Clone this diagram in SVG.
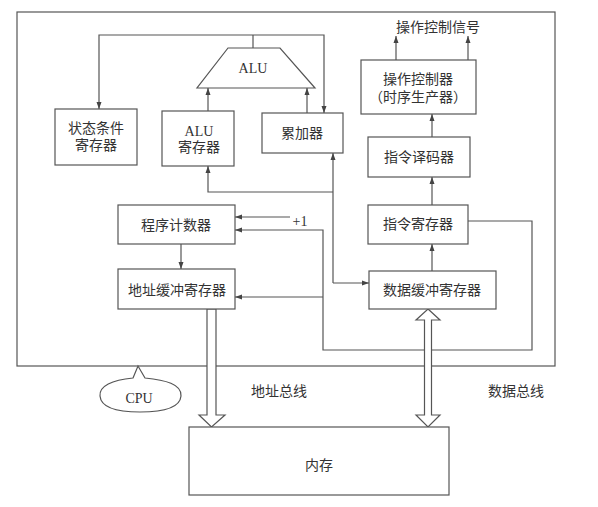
<svg xmlns="http://www.w3.org/2000/svg" width="598" height="507" viewBox="0 0 598 507">
<style>
.box{fill:#fff;stroke:#555;stroke-width:1.2}
.ln{fill:none;stroke:#555;stroke-width:1.2}
.bus{fill:#fff;stroke:#555;stroke-width:1.2;stroke-linejoin:miter}
text{font-family:"Liberation Serif","Noto Sans CJK SC",serif;font-size:14px;fill:#333;text-anchor:middle}
.lat{font-size:14px}
</style>
<defs>
<marker id="ah" markerUnits="userSpaceOnUse" markerWidth="8" markerHeight="6" refX="7" refY="3" orient="auto">
<path d="M0,0.5 L7,3 L0,5.5 z" fill="#444"/>
</marker>
</defs>
<rect width="598" height="507" fill="#fff"/>
<g id="cpu-frame"><rect x="17" y="12" width="538" height="354" class="box" fill="none"/></g>

<g id="connectors">
<path class="ln" d="M253,48 V35"/>
<path class="ln" d="M253,35 H99 V109" marker-end="url(#ah)"/>
<path class="ln" d="M253,35 H324 V113" marker-end="url(#ah)"/>
<path class="ln" d="M208,111 V88" marker-end="url(#ah)"/>
<path class="ln" d="M307,113 V88" marker-end="url(#ah)"/>
<path class="ln" d="M333,192 H208 V166" marker-end="url(#ah)"/>
<path class="ln" d="M333,283 V153" marker-end="url(#ah)"/>
<path class="ln" d="M333,283 H369" marker-end="url(#ah)"/>
<path class="ln" d="M290,217 H235" marker-end="url(#ah)"/>
<path class="ln" d="M468,221 H532 V350 H323 V230 H235" marker-end="url(#ah)"/>
<path class="ln" d="M323,297 H235" marker-end="url(#ah)"/>
<path class="ln" d="M181,244 V269" marker-end="url(#ah)"/>
<path class="ln" d="M432,271 V244" marker-end="url(#ah)"/>
<path class="ln" d="M432,205 V177" marker-end="url(#ah)"/>
<path class="ln" d="M432,137 V114" marker-end="url(#ah)"/>
<path class="ln" d="M396,60 V36" marker-end="url(#ah)"/>
<path class="ln" d="M468,60 V36" marker-end="url(#ah)"/>
<polygon class="bus" points="207,309 216,309 216,415 225,415 211.5,427 199,415 207,415"/>
<polygon class="bus" points="428,309 440,320 431.5,320 431.5,415 440,415 428,427 416,415 424.5,415 424.5,320 416,320"/>
</g>

<text x="300" y="226" class="lat">+1</text>
<text x="438" y="32">操作控制信号</text>
<text x="279" y="396">地址总线</text>
<text x="516" y="396">数据总线</text>

<g id="alu">
<polygon class="box" points="228,48 280,48 315,88 197,88"/>
<text x="253" y="73" class="lat">ALU</text>
</g>
<g id="status-reg">
<rect class="box" x="55" y="109" width="82" height="56"/>
<text x="96" y="133">状态条件</text>
<text x="96" y="150">寄存器</text>
</g>
<g id="alu-reg">
<rect class="box" x="162" y="111" width="72" height="55"/>
<text x="199" y="136" class="lat">ALU</text>
<text x="199" y="152">寄存器</text>
</g>
<g id="accumulator">
<rect class="box" x="262" y="113" width="81" height="40"/>
<text x="302" y="138">累加器</text>
</g>
<g id="op-controller">
<rect class="box" x="361" y="60" width="115" height="54"/>
<text x="418" y="84">操作控制器</text>
<text x="418" y="102">（时序生产器）</text>
</g>
<g id="decoder">
<rect class="box" x="368" y="137" width="102" height="40"/>
<text x="419" y="162">指令译码器</text>
</g>
<g id="pc">
<rect class="box" x="118" y="205" width="117" height="39"/>
<text x="176" y="230">程序计数器</text>
</g>
<g id="ir">
<rect class="box" x="368" y="205" width="100" height="39"/>
<text x="418" y="229">指令寄存器</text>
</g>
<g id="mar">
<rect class="box" x="118" y="269" width="117" height="40"/>
<text x="177" y="295">地址缓冲寄存器</text>
</g>
<g id="mdr">
<rect class="box" x="369" y="271" width="127" height="38"/>
<text x="432" y="295">数据缓冲寄存器</text>
</g>
<g id="memory">
<rect class="box" x="189" y="427" width="260" height="68"/>
<text x="319" y="470">内存</text>
</g>
<g id="cpu-label">
<path class="box" d="M133,378 L138,366 L145,378 C165,380 182,384 181,396 C180,408 162,412 140,412 C118,412 101,408 100,396 C99,386 112,380 133,378 Z"/>
<text x="139" y="403" class="lat">CPU</text>
</g>
</svg>
